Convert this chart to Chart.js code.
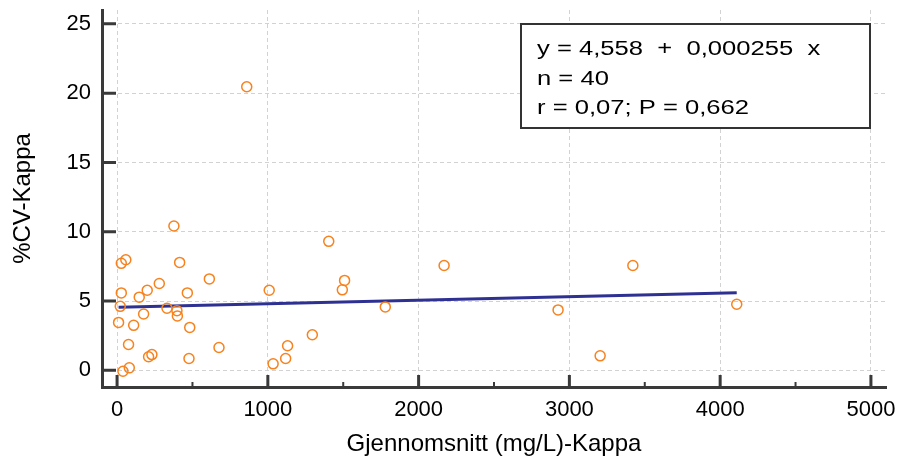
<!DOCTYPE html>
<html>
<head>
<meta charset="utf-8">
<script src="https://cdn.jsdelivr.net/npm/chart.js@4/dist/chart.umd.min.js"></script>
<style>
    html, body { margin: 0; padding: 0; background: #fff; }
    #wrap { width: 898px; height: 462px; }
</style>
</head>
<body>
<div id="wrap"><canvas id="cvChart" width="898" height="462"></canvas></div>
<script>
// Gjennomsnitt (mg/L) per prøve
const meanKappa = [
    377, 28, 58, 415, 280, 612, 28, 200, 147, 466,
    1009, 1404, 1509, 1494, 21, 331, 397, 400, 176, 10,
    110, 482, 76, 676, 209, 231, 477, 39, 81, 1131,
    1118, 1035, 1295, 2169, 1779, 3421, 2925, 3204, 4110, 860
];
// %CV per prøve
const cvKappa = [
    10.42, 7.72, 7.98, 7.79, 6.27, 6.6, 5.59, 5.78, 5.28, 5.59,
    5.78, 9.31, 6.49, 5.81, 4.62, 4.48, 4.31, 3.93, 4.07, 3.46,
    3.25, 3.10, 1.87, 1.65, 0.98, 1.14, 0.86, -0.06, 0.18, 1.78,
    0.86, 0.47, 2.57, 7.57, 4.58, 7.57, 4.36, 1.05, 4.77, 20.46
];
const xTicks = [0, 1000, 2000, 3000, 4000, 5000];
const yTicks = [0, 5, 10, 15, 20, 25];

// regresjon (fra teksten i boksen)
const intercept = 4.558;
const slope = 0.000255;
const statsLines = ['y = 4,558  +  0,000255  x', 'n = 40', 'r = 0,07; P = 0,662'];

const colors = {
    point: '#F7821E',
    line: '#2E3192',
    axis: '#3a3a3a',
    grid: '#d2d2d2',
    text: '#000000'
};

const points = meanKappa.map((x, i) => ({ x: x, y: cvKappa[i] }));
const xMin = Math.min(...meanKappa);
const xMax = Math.max(...meanKappa);
const regLine = [
    { x: xMin, y: intercept + slope * xMin },
    { x: xMax, y: intercept + slope * xMax }
];

// tick marks pointing inward, plus minor x ticks
const innerTicks = {
    id: 'innerTicks',
    afterDraw(chart) {
        const ctx = chart.ctx;
        const area = chart.chartArea;
        const sx = chart.scales.x, sy = chart.scales.y;
        ctx.save();
        ctx.strokeStyle = colors.axis;
        ctx.lineWidth = 3;
        ctx.beginPath();
        xTicks.forEach(v => {
            const px = sx.getPixelForValue(v);
            ctx.moveTo(px, area.bottom);
            ctx.lineTo(px, area.bottom - 12);
        });
        ctx.stroke();
        ctx.lineWidth = 2;
        ctx.beginPath();
        for (let i = 0; i < xTicks.length - 1; i++) {
            const px = sx.getPixelForValue((xTicks[i] + xTicks[i + 1]) / 2);
            ctx.moveTo(px, area.bottom);
            ctx.lineTo(px, area.bottom - 5);
        }
        ctx.stroke();
        ctx.lineWidth = 3;
        ctx.beginPath();
        yTicks.forEach(v => {
            const py = sy.getPixelForValue(v);
            ctx.moveTo(area.left, py);
            ctx.lineTo(area.left + 14, py);
        });
        ctx.stroke();
        ctx.restore();
    }
};

// statistikk-boks
const statsBox = {
    id: 'statsBox',
    afterDraw(chart) {
        const ctx = chart.ctx;
        ctx.save();
        ctx.fillStyle = '#ffffff';
        ctx.fillRect(521, 24, 349, 104);
        ctx.strokeStyle = '#333333';
        ctx.lineWidth = 2;
        ctx.strokeRect(521, 24, 349, 104);
        ctx.fillStyle = colors.text;
        ctx.font = '20px "Liberation Sans", Arial, sans-serif';
        ctx.textBaseline = 'alphabetic';
        statsLines.forEach((t, i) => {
            ctx.save();
            ctx.translate(537, 55 + i * 29.5);
            ctx.scale(1.28, 1);
            ctx.fillText(t, 0, 0);
            ctx.restore();
        });
        ctx.restore();
    }
};

const fontFamily = '"Liberation Sans", Arial, sans-serif';

new Chart(document.getElementById('cvChart'), {
    type: 'scatter',
    data: {
        datasets: [
            {
                label: 'Regresjon',
                type: 'line',
                data: regLine,
                borderColor: colors.line,
                borderWidth: 3,
                pointRadius: 0,
                fill: false,
                order: 2
            },
            {
                label: '%CV-Kappa',
                data: points,
                pointRadius: 5,
                pointBorderWidth: 1.5,
                borderColor: colors.point,
                backgroundColor: 'rgba(255,255,255,0)',
                order: 1
            }
        ]
    },
    options: {
        responsive: false,
        animation: false,
        layout: {
            padding: { top: 10, right: 12, bottom: 0, left: 0 }
        },
        plugins: {
            legend: { display: false },
            tooltip: { enabled: false }
        },
        scales: {
            x: {
                type: 'linear',
                min: -100,
                max: 5100,
                afterBuildTicks: function(scale) {
                    scale.ticks = xTicks.map(v => ({ value: v }));
                },
                afterFit: function(scale) {
                    scale.height = 75;
                    scale.paddingLeft = 0;
                    scale.paddingRight = 0;
                },
                grid: {
                    color: colors.grid,
                    lineWidth: 1,
                    drawTicks: false
                },
                border: {
                    color: colors.axis,
                    width: 3,
                    dash: [4, 3]
                },
                ticks: {
                    padding: 10,
                    color: colors.text,
                    font: { family: fontFamily, size: 22 },
                    maxRotation: 0,
                    autoSkip: false,
                    callback: function(value) {
                        return String(value);
                    }
                },
                title: {
                    display: true,
                    text: 'Gjennomsnitt (mg/L)-Kappa',
                    color: colors.text,
                    font: { family: fontFamily, size: 24 },
                    padding: { top: 0, bottom: 3 }
                }
            },
            y: {
                type: 'linear',
                min: -1.2,
                max: 26,
                afterBuildTicks: function(scale) {
                    scale.ticks = yTicks.map(v => ({ value: v }));
                },
                afterFit: function(scale) {
                    scale.width = 102;
                    scale.paddingTop = 0;
                    scale.paddingBottom = 0;
                },
                grid: {
                    color: colors.grid,
                    lineWidth: 1,
                    drawTicks: false
                },
                border: {
                    color: colors.axis,
                    width: 3,
                    dash: [4, 3]
                },
                ticks: {
                    padding: 11,
                    color: colors.text,
                    font: { family: fontFamily, size: 22 },
                    autoSkip: false,
                    callback: function(value) {
                        return String(value);
                    }
                },
                title: {
                    display: true,
                    text: '%CV-Kappa',
                    color: colors.text,
                    font: { family: fontFamily, size: 24 },
                    padding: { top: 9, bottom: 0 }
                }
            }
        }
    },
    plugins: [innerTicks, statsBox]
});
</script>
</body>
</html>
